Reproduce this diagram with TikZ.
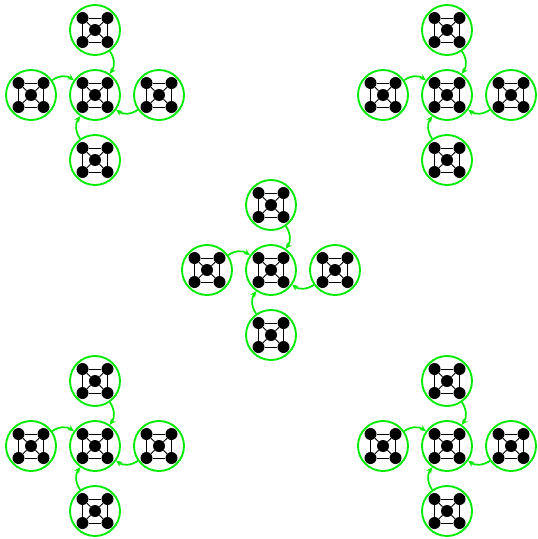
\documentclass[tikz,border=0pt]{standalone}
\usetikzlibrary{arrows.meta}

\definecolor{cellgreen}{RGB}{0,235,0}

\tikzset{
  cell/.style={circle,draw=cellgreen,line width=1.4pt,minimum size=37.5pt,inner sep=0pt},
  dot/.style={circle,fill=black,inner sep=0pt,minimum size=9pt},
  bond/.style={line width=0.75pt},
  link/.style={-{Stealth[length=4.5pt,width=4.2pt]},draw=cellgreen,line width=1.3pt},
}

% one cell: green ring with a square-and-hub graph inside
\newcommand{\cellgraph}[1]{%
  \node[cell] (#1) at (0,0) {};
  \node[dot] (#1-nw) at (-12.5,-12) {};
  \node[dot] (#1-ne) at (12.5,-12) {};
  \node[dot] (#1-se) at (12.5,12) {};
  \node[dot] (#1-sw) at (-12.5,12) {};
  \node[dot] (#1-hub) at (0,0) {};
  \draw[bond] (#1-nw) -- (#1-ne);
  \draw[bond] (#1-ne) -- (#1-se);
  \draw[bond] (#1-se) -- (#1-sw);
  \draw[bond] (#1-sw) -- (#1-nw);
  \foreach \q in {nw,ne,se,sw}
    \draw[bond] (#1-hub) -- (#1-\q);
}

\begin{document}
\begin{tikzpicture}[x=0.75pt,y=0.75pt,yscale=-1,xscale=1]
\useasboundingbox (0,0) rectangle (538,539);

\foreach \k/\cx/\cy in {a/95/95, b/447/95, m/271/270, c/95/446, d/447/446}{
  % the five cells of one cluster
  \foreach \p/\dx/\dy in {mid/0/0, top/0/-65, lft/-64/0, rgt/64/0, bot/0/65}{
    \begin{scope}[shift={(\cx,\cy)}]
      \begin{scope}[shift={(\dx,\dy)}]
        \cellgraph{\k-\p}
      \end{scope}
    \end{scope}
  }
  % arrows into the middle cell
  \draw[link] (\k-top.-55) to[out=55,in=-55] (\k-mid.55);
  \draw[link] (\k-lft.35) to[out=-35,in=-145] (\k-mid.145);
  \draw[link] (\k-rgt.215) to[out=145,in=35] (\k-mid.-35);
  \draw[link] (\k-bot.125) to[out=-125,in=125] (\k-mid.235);
}

\end{tikzpicture}
\end{document}
